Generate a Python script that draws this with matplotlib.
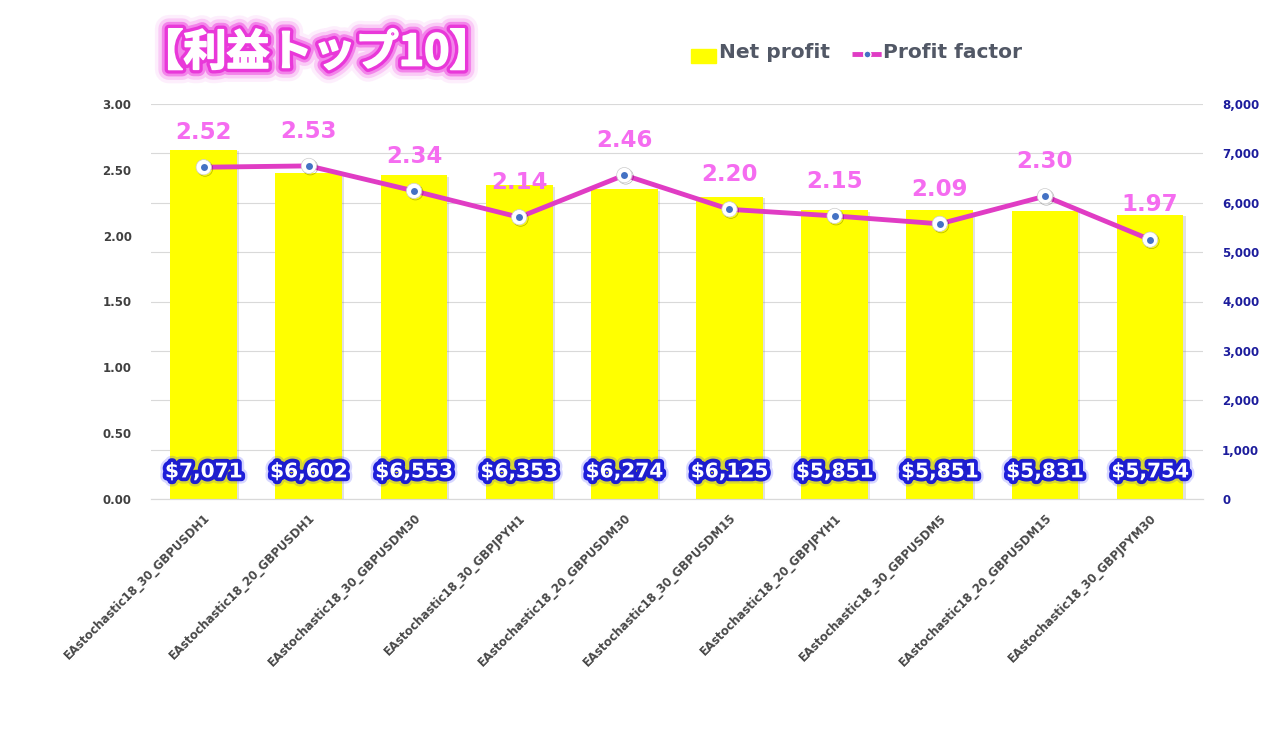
import matplotlib
matplotlib.use('Agg')
import matplotlib.pyplot as plt
import matplotlib.patheffects as pe
from matplotlib.patches import Rectangle
from matplotlib.lines import Line2D
from matplotlib import ticker

# data
strategies = ['EAstochastic18_30_GBPUSDH1', 'EAstochastic18_20_GBPUSDH1',
              'EAstochastic18_30_GBPUSDM30', 'EAstochastic18_30_GBPJPYH1',
              'EAstochastic18_20_GBPUSDM30', 'EAstochastic18_30_GBPUSDM15',
              'EAstochastic18_20_GBPJPYH1', 'EAstochastic18_30_GBPUSDM5',
              'EAstochastic18_20_GBPUSDM15', 'EAstochastic18_30_GBPJPYM30']
net_profit = [7071, 6602, 6553, 6353, 6274, 6125, 5851, 5851, 5831, 5754]
profit_factor = [2.52, 2.53, 2.34, 2.14, 2.46, 2.20, 2.15, 2.09, 2.30, 1.97]
title = '【利益トップ10】'

bar_col = '#ffff00'
line_col = '#e03cc4'
pf_label_col = '#f56cf0'
dot_col = '#4472c4'
grid_col = '#d9d9d9'

fig = plt.figure(figsize=(12.7, 7.5), dpi=100)
ax = fig.add_axes([0.119, 0.3347, 0.828, 0.5266])   # left axis: profit factor
ax2 = ax.twinx()                                     # right axis: net profit
ax.set_zorder(ax2.get_zorder() + 1)
ax.patch.set_visible(False)

x = list(range(len(strategies)))

# bars on right axis
bars = ax2.bar(x, net_profit, width=0.635, color=bar_col, zorder=2,
               path_effects=[pe.withSimplePatchShadow(offset=(1.5, -1), alpha=0.25, shadow_rgbFace='#888888'),
                             pe.Normal()])
ax2.set_ylim(0, 8000)
ax2.yaxis.set_major_locator(ticker.MultipleLocator(1000))
ax2.yaxis.set_major_formatter(ticker.StrMethodFormatter('{x:,.0f}'))
ax2.grid(axis='y', color=grid_col, linewidth=0.8, zorder=0)
ax2.set_axisbelow(True)
for lbl in ax2.get_yticklabels():
    lbl.set_color('#1c1c9c')
    lbl.set_fontweight('bold')
ax2.tick_params(axis='y', length=0, pad=14, labelsize=8.5)

# bar value labels at the base
for xi, v in zip(x, net_profit):
    ax2.annotate('${:,}'.format(v), (xi, 0), xytext=(0, 19.5), textcoords='offset points',
                 ha='center', va='center', fontsize=14.5, fontweight='bold', color='white', zorder=5,
                 path_effects=[pe.Stroke(linewidth=9, foreground='#3a3aff', alpha=0.2),
                               pe.Stroke(linewidth=5.5, foreground='#1414d8', alpha=0.95),
                               pe.Normal()])

# profit factor line on left axis
ax.plot(x, profit_factor, color=line_col, linewidth=3.5, zorder=3)
ax.plot(x, profit_factor, linestyle='none', marker='o', markersize=11,
        markerfacecolor='white', markeredgecolor='#cccccc', markeredgewidth=0.5, zorder=4,
        path_effects=[pe.SimpleLineShadow(offset=(1, -1), alpha=0.3), pe.Normal()])
ax.plot(x, profit_factor, linestyle='none', marker='o', markersize=5,
        markerfacecolor=dot_col, markeredgewidth=0, zorder=5)
for xi, v in zip(x, profit_factor):
    ax.annotate('{:.2f}'.format(v), (xi, v), xytext=(0, 25), textcoords='offset points',
                ha='center', va='center', fontsize=16.5, fontweight='heavy', color=pf_label_col, zorder=6)

ax.set_ylim(0, 3)
ax.set_xlim(-0.5, 9.5)
ax.yaxis.set_major_locator(ticker.MultipleLocator(0.5))
ax.yaxis.set_major_formatter(ticker.StrMethodFormatter('{x:.2f}'))
ax.tick_params(axis='y', length=0, pad=14, labelsize=8.5, labelcolor='#404040')
for lbl in ax.get_yticklabels():
    lbl.set_fontweight('bold')
ax.set_xticks(x)
ax.set_xticklabels(strategies, rotation=45, ha='right', rotation_mode='anchor',
                   fontsize=8.4, fontweight='bold', color='#484848')
ax.tick_params(axis='x', length=0, pad=9)

for a in (ax, ax2):
    for s in ('top', 'left', 'right'):
        a.spines[s].set_visible(False)
    a.spines['bottom'].set_color(grid_col)

# title with magenta glow
fig.text(0.249, 0.930, title, ha='center', va='center', fontsize=31, fontweight='bold',
         color='white', family=['Noto Sans CJK JP', 'DejaVu Sans'],
         path_effects=[pe.Stroke(linewidth=20, foreground='#f060e8', alpha=0.1),
                       pe.Stroke(linewidth=15, foreground='#f050e4', alpha=0.22),
                       pe.Stroke(linewidth=10, foreground='#ee3ee0', alpha=0.5),
                       pe.Stroke(linewidth=6, foreground='#e830d8', alpha=0.9),
                       pe.Stroke(linewidth=1.2, foreground='white'),
                       pe.Normal()])

# legend built by hand
fig.patches.append(Rectangle((691 / 1270, 1 - 63 / 750), 25 / 1270, 14 / 750,
                             transform=fig.transFigure, color=bar_col, figure=fig))
fig.text(719 / 1270, 1 - 53 / 750, 'Net profit', ha='left', va='center', fontsize=14.5,
         fontweight='bold', color='#525866')
fig.lines.append(Line2D([852 / 1270, 882 / 1270], [1 - 54 / 750] * 2, transform=fig.transFigure,
                        color=line_col, linewidth=3.5, linestyle=(0, (2.2, 1.6)), figure=fig))
fig.lines.append(Line2D([867 / 1270], [1 - 54 / 750], transform=fig.transFigure, marker='o',
                        markersize=5, markerfacecolor=dot_col, markeredgecolor='white',
                        markeredgewidth=1, linestyle='none', figure=fig))
fig.text(883 / 1270, 1 - 53 / 750, 'Profit factor', ha='left', va='center', fontsize=14.5,
         fontweight='bold', color='#525866')

fig.savefig('out.png', dpi=100)
